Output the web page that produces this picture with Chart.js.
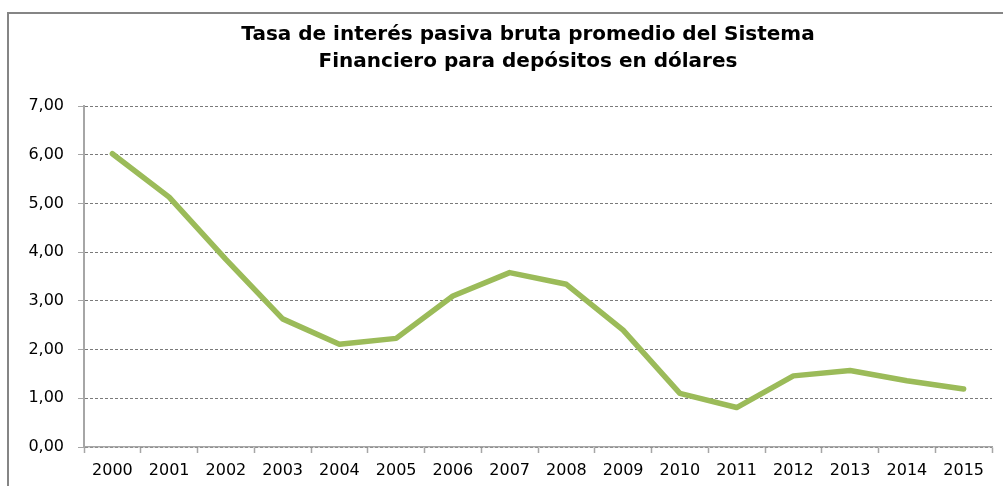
<!DOCTYPE html>
<html>
<head>
<meta charset="utf-8">
<script src="https://cdn.jsdelivr.net/npm/chart.js@4"></script>
<style>
html,body{margin:0;padding:0;background:#fff;}
#wrap{position:relative;width:1003px;height:486px;}
</style>
</head>
<body>
<div id="wrap"><canvas id="c" width="1003" height="486"></canvas></div>
<script>
const years = ['2000','2001','2002','2003','2004','2005','2006','2007','2008','2009','2010','2011','2012','2013','2014','2015'];
const tasa = [6.02, 5.13, 3.85, 2.63, 2.11, 2.23, 3.10, 3.58, 3.34, 2.40, 1.10, 0.81, 1.46, 1.57, 1.36, 1.19];
const titleLines = ['Tasa de interés pasiva bruta promedio del Sistema', 'Financiero para depósitos en dólares'];

const frame = {
  id: 'frame',
  beforeDraw(chart) {
    const ctx = chart.ctx;
    ctx.save();
    ctx.fillStyle = '#fff';
    ctx.fillRect(0, 0, chart.width, chart.height);
    ctx.strokeStyle = '#858585';
    ctx.lineWidth = 2;
    ctx.beginPath();
    ctx.moveTo(8, chart.height + 5);
    ctx.lineTo(8, 13);
    ctx.lineTo(chart.width + 5, 13);
    ctx.stroke();
    ctx.restore();
  }
};

const chartTitle = {
  id: 'chartTitle',
  afterDraw(chart, args, opts) {
    const ctx = chart.ctx;
    ctx.save();
    ctx.fillStyle = '#000';
    ctx.font = 'bold 20px "DejaVu Sans"';
    ctx.textAlign = 'center';
    ctx.textBaseline = 'middle';
    opts.lines.forEach((t, i) => ctx.fillText(t, opts.x, opts.y + i * opts.lineGap));
    ctx.restore();
  }
};

new Chart(document.getElementById('c'), {
  type: 'line',
  data: {
    labels: years,
    datasets: [{
      data: tasa,
      borderColor: '#9BBB59',
      borderWidth: 5.5,
      pointRadius: 0,
      tension: 0,
      fill: false,
      borderCapStyle: 'round',
      borderJoinStyle: 'round'
    }]
  },
  plugins: [frame, chartTitle],
  options: {
    responsive: false,
    animation: false,
    devicePixelRatio: 1,
    layout: { padding: { left: 0, right: 11, top: 106, bottom: 0 } },
    plugins: {
      legend: { display: false },
      tooltip: { enabled: false },
      title: { display: false },
      chartTitle: { lines: titleLines, x: 528, y: 35, lineGap: 27 }
    },
    scales: {
      x: {
        offset: true,
        grid: { offset: true, drawOnChartArea: false, drawTicks: true, tickLength: 6, color: '#a6a6a6', tickWidth: 1.5 },
        border: { display: true, color: '#a6a6a6', width: 1.5 },
        ticks: { color: '#000', font: { family: 'DejaVu Sans', size: 16 }, padding: 8, maxRotation: 0, autoSkip: false },
        afterFit(s) { s.height = 39; }
      },
      y: {
        min: 0, max: 7,
        ticks: {
          stepSize: 1, color: '#000', font: { family: 'DejaVu Sans', size: 16 }, padding: 14,
          callback: v => v.toFixed(2).replace('.', ',')
        },
        grid: { color: '#7a7a7a', lineWidth: 1, drawTicks: true, tickLength: 6, tickColor: '#a6a6a6' },
        border: { display: true, color: '#a6a6a6', width: 2, dash: [3, 2] },
        afterFit(s) { s.width = 84; }
      }
    }
  }
});
</script>
</body>
</html>
